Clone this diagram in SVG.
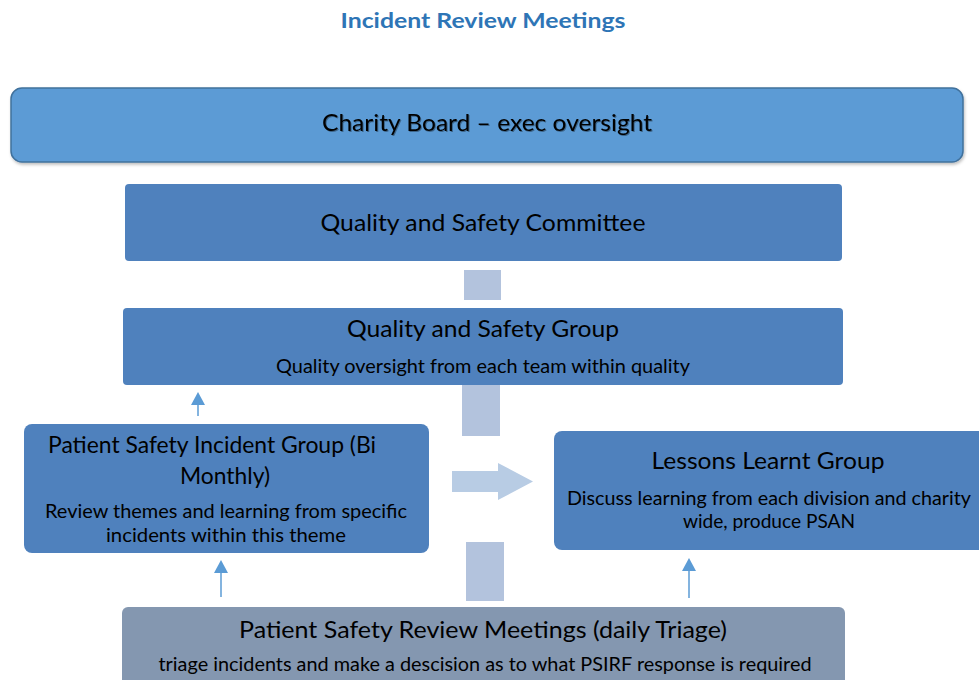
<svg xmlns="http://www.w3.org/2000/svg" width="979" height="680" viewBox="0 0 979 680">
  <style>
    text { font-family: Lato, "Open Sans", "Liberation Sans", sans-serif; fill: #000; text-anchor: middle; }
    .title { font-weight: bold; font-size: 21px; fill: #2E75B6; }
    .head { font-size: 23.5px; }
    .sub { font-size: 18.5px; }
    .box { fill: #4F81BD; }
    .link { fill: #B3C3DD; }
    .up { stroke: #5B9BD5; stroke-width: 1.5; fill: none; }
  </style>
  <defs>
    <marker id="tip" markerWidth="14" markerHeight="14" refX="2" refY="7" orient="auto" markerUnits="userSpaceOnUse" viewBox="0 0 14 14">
      <path d="M0,0 L13,7 L0,14 Z" fill="#5B9BD5"/>
    </marker>
    <filter id="soft" x="-5%" y="-20%" width="110%" height="140%">
      <feDropShadow dx="1" dy="2" stdDeviation="1.5" flood-color="#000" flood-opacity="0.25"/>
    </filter>
    <filter id="tshadow">
      <feDropShadow dx="1" dy="1" stdDeviation="0.6" flood-color="#000" flood-opacity="0.35"/>
    </filter>
  </defs>

  <rect width="979" height="680" fill="#fff"/>

  <text class="title" x="483" y="28" textLength="285" lengthAdjust="spacingAndGlyphs">Incident Review Meetings</text>

  <!-- connectors -->
  <g id="connectors">
    <rect class="link" x="464" y="270" width="37" height="30"/>
    <rect class="link" x="462" y="383" width="38" height="53"/>
    <rect class="link" x="466" y="542" width="38" height="59"/>
    <path d="M452,471 H498 V463 L533,481.5 L498,500 V492 H452 Z" fill="#B8CCE4"/>
    <line class="up" x1="198" y1="416" x2="198" y2="403" marker-end="url(#tip)"/>
    <line class="up" x1="221" y1="597" x2="221" y2="571" marker-end="url(#tip)"/>
    <line class="up" x1="689" y1="598" x2="689" y2="569" marker-end="url(#tip)"/>
  </g>

  <g id="charity-board">
    <rect x="11" y="88" width="952" height="74" rx="11" fill="#5B9BD5" stroke="#41719C" stroke-width="1.5" filter="url(#soft)"/>
    <text class="head" x="487" y="131" textLength="330" lengthAdjust="spacingAndGlyphs" filter="url(#tshadow)">Charity Board – exec oversight</text>
  </g>

  <g id="quality-safety-committee">
    <rect class="box" x="125" y="184" width="717" height="77" rx="4"/>
    <text class="head" x="483" y="231" textLength="325" lengthAdjust="spacingAndGlyphs">Quality and Safety Committee</text>
  </g>

  <g id="quality-safety-group">
    <rect class="box" x="123" y="308" width="720" height="77" rx="4"/>
    <text class="head" x="483" y="337" textLength="272" lengthAdjust="spacingAndGlyphs">Quality and Safety Group</text>
    <text class="sub" x="483" y="373" textLength="414" lengthAdjust="spacingAndGlyphs">Quality oversight from each team within quality</text>
  </g>

  <g id="patient-safety-incident-group">
    <rect class="box" x="24" y="424" width="405" height="129" rx="8"/>
    <text class="head" x="212" y="453" textLength="328" lengthAdjust="spacingAndGlyphs">Patient Safety Incident Group (Bi</text>
    <text class="head" x="225" y="484" textLength="90" lengthAdjust="spacingAndGlyphs">Monthly)</text>
    <text class="sub" x="226" y="518" textLength="362" lengthAdjust="spacingAndGlyphs">Review themes and learning from specific</text>
    <text class="sub" x="226" y="542" textLength="240" lengthAdjust="spacingAndGlyphs">incidents within this theme</text>
  </g>

  <g id="lessons-learnt-group">
    <rect class="box" x="554" y="431" width="440" height="119" rx="8"/>
    <text class="head" x="768" y="469" textLength="233" lengthAdjust="spacingAndGlyphs">Lessons Learnt Group</text>
    <text class="sub" x="769" y="505" textLength="404" lengthAdjust="spacingAndGlyphs">Discuss learning from each division and charity</text>
    <text class="sub" x="769" y="528" textLength="172" lengthAdjust="spacingAndGlyphs">wide, produce PSAN</text>
  </g>

  <g id="patient-safety-review-meetings">
    <rect x="122" y="607" width="723" height="90" rx="6" fill="#8497B0"/>
    <text class="head" x="483" y="638" textLength="488" lengthAdjust="spacingAndGlyphs">Patient Safety Review Meetings (daily Triage)</text>
    <text class="sub" x="485" y="671" textLength="653" lengthAdjust="spacingAndGlyphs">triage incidents and make a descision as to what PSIRF response is required</text>
  </g>
</svg>
